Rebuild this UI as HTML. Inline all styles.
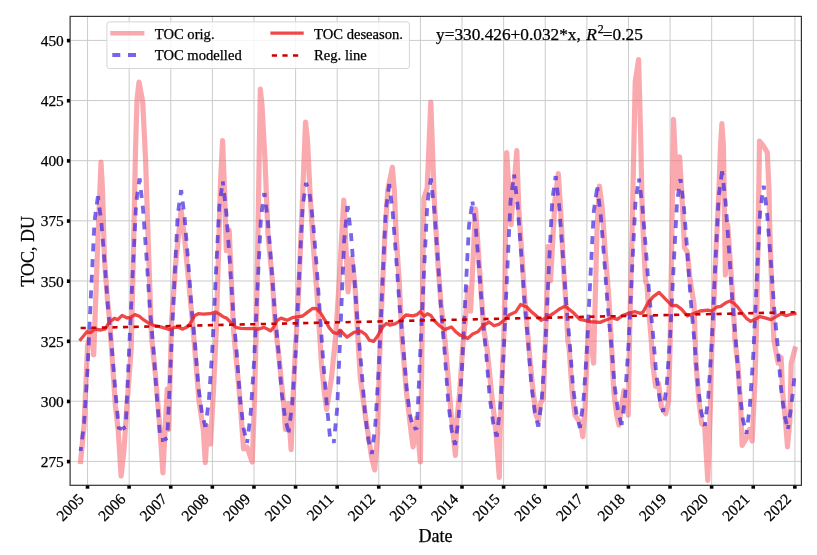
<!DOCTYPE html>
<html><head><meta charset="utf-8"><style>
html,body{margin:0;padding:0;background:#fff;width:817px;height:555px;overflow:hidden}
svg{display:block;filter:blur(0.35px)}
text{font-family:"Liberation Serif",serif;fill:#000;stroke:#000;stroke-width:0.25px}
</style></head><body>
<svg width="817" height="555" viewBox="0 0 817 555">
<rect x="0" y="0" width="817" height="555" fill="#fff"/>

<defs><clipPath id="ax"><rect x="70.1" y="16.4" width="731.3" height="468.9"/></clipPath></defs>
<path d="M87.55 16.4V485.3M129.16 16.4V485.3M170.77 16.4V485.3M212.38 16.4V485.3M253.99 16.4V485.3M295.6 16.4V485.3M337.2 16.4V485.3M378.81 16.4V485.3M420.42 16.4V485.3M462.03 16.4V485.3M503.64 16.4V485.3M545.25 16.4V485.3M586.86 16.4V485.3M628.47 16.4V485.3M670.08 16.4V485.3M711.68 16.4V485.3M753.29 16.4V485.3M794.9 16.4V485.3M70.1 461.4H801.4M70.1 401.25H801.4M70.1 341.11H801.4M70.1 280.97H801.4M70.1 220.83H801.4M70.1 160.69H801.4M70.1 100.54H801.4M70.1 40.4H801.4" stroke="#cbcbcb" stroke-width="1" fill="none"/>
<g clip-path="url(#ax)">
<polyline points="80.6,461.3 84.1,425 87.6,345 90.9,331 93.7,355 97.5,250 101,162 102.5,190 104.5,260 107.5,300 109.6,320 112.5,363 115.4,406 118.2,430 121.1,476 124,450 126.9,406 131.2,349 133.5,250 135.5,150 137,100 139,82 142.7,102 145.6,160 147.5,220 151.4,335 155.7,377.7 160,429.5 162.9,472.8 167.2,389.2 168.7,429.5 171.6,320 176,260 181.1,210.3 184.5,237.6 193.2,330 199,400.7 203.3,429.5 205.3,462.7 207.6,426.7 210.5,444 213.4,392 216.3,330 220.6,180 222.6,140.5 224.9,200 226.3,250.6 229.2,230.4 233.5,330 239.3,392 243.6,449 247,447 252.2,462 254.5,400 256.5,320 258.5,200 260.3,89 262,105 265,160 268,235 272.4,281 275.3,325 279.6,363.2 283.9,406.5 285.4,429.5 288.2,403.6 291.1,449.7 292.6,406.5 295.4,348.8 298.3,300 302.7,194 305.5,122 307.5,140 309.9,190 312.7,237.7 317.1,295.3 320,340 321.4,363.2 324.3,392 326.6,409.4 331.5,377.7 335.8,334.4 338.7,290 341.6,237.7 343.8,200 348,292 351.8,258 355,285 358,340 360.3,377.7 366.1,420.9 371.8,458.4 374.7,469.9 377.6,435.3 379,377.7 380.5,330 384.8,237.7 387.8,190 392.4,167.4 394.4,192 396.3,237.7 399.2,280.9 402.1,340 406.4,392 410.8,429.5 413.1,446.8 416.5,418 420.4,462 423.9,198 427.2,188 430.8,102 434.3,200 437.8,262 441,304 444.5,335 448.2,377.7 451,412.2 453.9,441 455.4,455.5 456.8,420.9 459.7,392 462.6,348.8 465.4,320 467.8,288.1 470.6,311.2 475.5,208.8 478.4,252 481.3,295.3 483.8,330 487.1,348.8 491.4,392 495.7,429.5 499.3,477.5 500,435.3 501.5,392 504.4,320 505.6,230 506.7,152.5 511,224.7 516.8,150.5 518.8,208.8 521.7,252 524.5,295.3 527.4,330 530.3,363.2 533.2,392 536.1,415.1 538.4,420.9 540.4,403.6 543.3,397.8 546.2,320 548.2,246.3 550.5,280.9 555,200 558.3,173.6 560.6,208.8 563.5,266.5 566.3,309.7 567.8,340 569.2,348.8 572.1,392 575,415.1 577.9,419.5 580.8,423.8 582.8,436.7 585.1,406.5 588.5,320 593.6,363.2 597,230 599.4,186 602.3,208.8 605.2,252 609,300 611.5,345 613.8,392 616.7,415.1 619,425.2 623.9,390.6 628.2,415.1 629.7,330 632,236 635.2,82 638.6,59.5 640.5,130 642.3,215 644.1,252 645.5,280.9 647,285 648.4,306.8 651.3,340 652.7,363.2 655.6,386.3 658.5,383.4 661.4,406.5 665.7,413.7 668.6,400.7 670,348.8 671.5,260 673.5,119.4 676.7,188.5 679.6,156.8 681.6,190 684.5,247.7 687.3,252 690.2,281 694,304 696,363.2 698.9,400.7 701.7,423.8 704.6,425.2 707.8,480.5 710.4,406.5 711.8,348.8 713.3,320 716,250 719,190 720.5,145.3 721.9,123.7 723.4,145.3 725.4,275 727.7,224.7 730.6,266.5 733.5,309.7 734.9,340 737.8,363.2 740.7,406.5 742.1,445.4 746.4,438.2 749.3,429.5 752.2,441 755.1,377.7 756.6,320 758.1,237.7 759.5,141 763.5,146 767.3,152.5 769,190 769.6,223.2 771,266.5 772.5,304 773.9,340 775.4,348.8 778.2,363.2 781.1,357.5 782.6,392 785.5,420.9 787.5,446.8 789.8,420.9 791.2,363.2 794.9,349" fill="none" stroke="#f7727a" stroke-opacity="0.6" stroke-width="5.2" stroke-linejoin="round" stroke-linecap="square"/>
<g fill="none" stroke="#3c26e1" opacity="0.7" stroke-width="3.8" stroke-dasharray="8 7.7" stroke-dashoffset="4" stroke-linejoin="round"><polyline points="80.62,451 84.09,422.94 87.55,369.37 91.02,292.84 94.49,221.41 97.96,195.9"/><polyline points="97.96,195.9 101.42,223.17 104.89,265.83 108.36,312.45 111.83,348.35 115.29,390.54 118.76,428 122.23,429"/><polyline points="122.23,429 125.7,427 129.16,348.84 132.63,273.69 136.1,203.55 139.57,178.5"/><polyline points="139.57,178.5 143.03,209.1 146.5,256.95 149.97,309.25 153.44,349.52 156.9,396.85 160.37,440 163.84,440"/><polyline points="163.84,440 167.31,438 170.77,360 174.24,285 177.71,215 181.17,190"/><polyline points="181.17,190 184.64,217.73 188.11,261.1 191.58,308.5 195.04,345 198.51,387.89 201.98,413.73 205.45,427"/><polyline points="205.45,427 208.91,399.98 212.38,348.41 215.85,274.73 219.32,205.96 222.78,181.4"/><polyline points="222.78,181.4 226.25,212.01 229.72,259.88 233.19,312.2 236.65,352.49 240.12,399.84 243.59,428.35 247.06,443"/><polyline points="247.06,443 250.52,415.5 253.99,363 257.46,288 260.92,218 264.39,193"/><polyline points="264.39,193 267.86,221.01 271.33,264.82 274.79,312.7 278.26,349.57 281.73,392.9 285.2,418.99 288.66,432.4"/><polyline points="288.66,432.4 292.13,404.94 295.6,352.53 299.07,277.65 302.53,207.76 306,182.8"/><polyline points="306,182.8 309.47,192.7 312.94,220.91 316.4,263.11 319.87,312.9 323.34,362.69 326.81,404.89 330.27,440 333.74,443"/><polyline points="333.74,443 337.21,408.29 340.68,324.5 344.14,240.71 347.61,206"/><polyline points="347.61,206 351.08,235.02 354.54,280.4 358.01,330 361.48,368.19 364.95,413.08 368.41,440.11 371.88,454"/><polyline points="371.88,454 375.35,424.3 378.82,367.6 382.28,286.6 385.75,211 389.22,184"/><polyline points="389.22,184 392.69,212.66 396.15,257.5 399.62,306.5 403.09,344.23 406.56,388.57 410.02,415.28 413.49,429"/><polyline points="413.49,429 416.96,428 420.43,348.84 423.89,273.69 427.36,203.55 430.83,178.5"/><polyline points="430.83,178.5 434.29,209.68 437.76,258.45 441.23,311.75 444.7,352.79 448.16,401.03 451.63,430.08 455.1,445"/><polyline points="455.1,445 458.57,418.23 462.03,367.11 465.5,294.09 468.97,225.94 472.44,201.6"/><polyline points="472.44,201.6 475.9,229.11 479.37,272.13 482.84,319.15 486.31,355.36 489.77,397.91 493.24,423.53 496.71,436.7"/><polyline points="496.71,436.7 500.18,407.86 503.64,352.8 507.11,274.14 510.58,200.72 514.05,174.5"/><polyline points="514.05,174.5 517.51,204.01 520.98,250.16 524.45,300.6 527.91,339.44 531.38,385.09 534.85,412.58 538.32,426.7"/><polyline points="538.32,426.7 541.78,399.12 545.25,346.48 548.72,271.27 552.19,201.07 555.65,176"/><polyline points="555.65,176 559.12,205.5 562.59,251.63 566.06,302.05 569.52,340.87 572.99,386.5 576.46,413.98 579.93,428.1"/><polyline points="579.93,428.1 583.39,401.6 586.86,351.01 590.33,278.74 593.8,211.29 597.26,187.2"/><polyline points="597.26,187.2 600.73,215.02 604.2,258.54 607.66,306.1 611.13,342.72 614.6,385.76 618.07,411.68 621.53,425"/><polyline points="621.53,425 625,397.88 628.47,346.12 631.94,272.17 635.4,203.15 638.87,178.5"/><polyline points="638.87,178.5 642.34,205.82 645.81,248.55 649.27,295.25 652.74,331.21 656.21,373.47 659.68,398.92 663.14,412"/><polyline points="663.14,412 666.61,386.37 670.08,337.44 673.55,267.54 677.01,202.3 680.48,179"/><polyline points="680.48,179 683.95,207.9 687.41,253.1 690.88,302.5 694.35,340.54 697.82,385.25 701.28,412.17 704.75,426"/><polyline points="704.75,426 708.22,397.98 711.69,344.5 715.15,268.09 718.62,196.77 722.09,171.3"/><polyline points="722.09,171.3 725.56,202.04 729.02,250.11 732.49,302.65 735.96,343.11 739.43,390.65 742.89,419.29 746.36,434"/><polyline points="746.36,434 749.83,406.69 753.3,354.54 756.76,280.05 760.23,210.53 763.7,185.7"/><polyline points="763.7,185.7 767.17,214.17 770.63,258.69 774.1,307.35 777.57,344.82 781.03,388.86 784.5,415.38 787.97,429"/><polyline points="787.97,429 791.44,405 794.9,373"/></g>
<polyline points="80.6,339.5 87,331.7 90.4,332.6 94.7,329.1 100.7,330 105,329.1 109.3,322.3 114.4,318.4 117.8,319.7 122.1,315.4 127.3,318 130.7,317.1 135,314.6 139.3,316.3 143.4,319.7 148.6,323.1 153.7,325.3 159.7,326.6 165.7,328.3 170,329.6 174.3,327.4 177.7,327 182.8,329.1 188,326.6 191.4,321.4 194.8,315.4 198.3,313.7 203.4,314.1 210.1,313.7 215.3,312 218.7,313.7 223,316.7 226.4,318 230.7,322.3 235.8,327.4 241,328.3 247.8,328.7 253,328.3 258.1,329.1 264.1,327.4 270.5,330.8 273.4,327.6 276.9,320.7 281.1,318.1 287.1,320.3 292.3,317.7 297.4,316.9 302.6,316 307.7,312.1 312.8,308.3 316.3,308.7 320.6,313 324.8,319.9 329.1,327.6 333.4,332.7 337.7,333.6 340.1,330.3 347,337.1 353.9,332.4 360.7,331.1 365.8,334.6 369.3,340.1 373.6,341.4 377.8,335.8 383,326.4 386.4,323.4 389.8,325.1 395,323.9 400.1,320.9 406,315 412.9,315.9 417.1,314.6 420.6,311.6 424,316.3 427.4,313.7 430.8,315.4 434.3,320.6 438.6,324.9 444.6,329.6 451.4,327 455.7,331.7 460,335.1 463.4,336 467.7,338.5 472.7,334 477.9,331.8 483,325.8 489,322 494.1,325.8 499.3,324.1 504.4,319.9 509.6,314.7 515.6,312.1 520.7,304.4 526.7,307 531.8,312.1 535.1,314.7 541.1,320.3 547.1,317.3 554,313 560,308.7 565.1,306.1 569.4,309.6 573.7,313 579.7,319.4 584.8,320.3 590,321.6 595.1,322 600.1,322.4 605.3,320.3 612.1,317.7 617.3,319.4 622.4,315.6 629.3,313 635.3,311.7 640.4,313.4 643,312.1 648.1,302.7 653.3,296.7 659.1,292.4 666,299.7 672,305.7 676.3,305.3 681.4,309.1 687.4,316 691.7,314.3 700.1,311 707.9,310.1 712.1,311 716.4,307.1 720.7,306.3 725,303.3 729.3,301.1 733.6,302.9 737.8,307.1 742.1,313.1 746.4,318.3 750.7,321.3 755.6,319.1 759.9,316.6 765,317.8 771,319.6 776.1,316.6 781.3,313.6 786.4,315.7 791.6,314 794.9,313.6" fill="none" stroke="#eb2828" stroke-opacity="0.85" stroke-width="3.3" stroke-linejoin="round" stroke-linecap="square"/>
<polyline points="80.62,328.06 794.9,312.2" fill="none" stroke="#c80000" stroke-width="2.6" stroke-dasharray="5.2 5.4"/>
</g>
<rect x="70.1" y="16.4" width="731.3" height="468.9" fill="none" stroke="#333" stroke-width="1.2"/>
<rect x="85.7" y="485.6" width="3.6" height="3.1" fill="#000"/><rect x="127.31" y="485.6" width="3.6" height="3.1" fill="#000"/><rect x="168.92" y="485.6" width="3.6" height="3.1" fill="#000"/><rect x="210.53" y="485.6" width="3.6" height="3.1" fill="#000"/><rect x="252.14" y="485.6" width="3.6" height="3.1" fill="#000"/><rect x="293.75" y="485.6" width="3.6" height="3.1" fill="#000"/><rect x="335.35" y="485.6" width="3.6" height="3.1" fill="#000"/><rect x="376.96" y="485.6" width="3.6" height="3.1" fill="#000"/><rect x="418.57" y="485.6" width="3.6" height="3.1" fill="#000"/><rect x="460.18" y="485.6" width="3.6" height="3.1" fill="#000"/><rect x="501.79" y="485.6" width="3.6" height="3.1" fill="#000"/><rect x="543.4" y="485.6" width="3.6" height="3.1" fill="#000"/><rect x="585.01" y="485.6" width="3.6" height="3.1" fill="#000"/><rect x="626.62" y="485.6" width="3.6" height="3.1" fill="#000"/><rect x="668.23" y="485.6" width="3.6" height="3.1" fill="#000"/><rect x="709.83" y="485.6" width="3.6" height="3.1" fill="#000"/><rect x="751.44" y="485.6" width="3.6" height="3.1" fill="#000"/><rect x="793.05" y="485.6" width="3.6" height="3.1" fill="#000"/><rect x="66.9" y="459.8" width="3.1" height="3.6" fill="#000"/><rect x="66.9" y="399.65" width="3.1" height="3.6" fill="#000"/><rect x="66.9" y="339.51" width="3.1" height="3.6" fill="#000"/><rect x="66.9" y="279.37" width="3.1" height="3.6" fill="#000"/><rect x="66.9" y="219.23" width="3.1" height="3.6" fill="#000"/><rect x="66.9" y="159.09" width="3.1" height="3.6" fill="#000"/><rect x="66.9" y="98.94" width="3.1" height="3.6" fill="#000"/><rect x="66.9" y="38.8" width="3.1" height="3.6" fill="#000"/>
<text x="63.8" y="467" font-size="15.4" text-anchor="end">275</text>
<text x="63.8" y="406.86" font-size="15.4" text-anchor="end">300</text>
<text x="63.8" y="346.71" font-size="15.4" text-anchor="end">325</text>
<text x="63.8" y="286.57" font-size="15.4" text-anchor="end">350</text>
<text x="63.8" y="226.43" font-size="15.4" text-anchor="end">375</text>
<text x="63.8" y="166.28" font-size="15.4" text-anchor="end">400</text>
<text x="63.8" y="106.14" font-size="15.4" text-anchor="end">425</text>
<text x="63.8" y="46" font-size="15.4" text-anchor="end">450</text>
<text transform="translate(84.75,500) rotate(-45)" font-size="15.5" text-anchor="end">2005</text>
<text transform="translate(126.36,500) rotate(-45)" font-size="15.5" text-anchor="end">2006</text>
<text transform="translate(167.97,500) rotate(-45)" font-size="15.5" text-anchor="end">2007</text>
<text transform="translate(209.58,500) rotate(-45)" font-size="15.5" text-anchor="end">2008</text>
<text transform="translate(251.19,500) rotate(-45)" font-size="15.5" text-anchor="end">2009</text>
<text transform="translate(292.8,500) rotate(-45)" font-size="15.5" text-anchor="end">2010</text>
<text transform="translate(334.4,500) rotate(-45)" font-size="15.5" text-anchor="end">2011</text>
<text transform="translate(376.01,500) rotate(-45)" font-size="15.5" text-anchor="end">2012</text>
<text transform="translate(417.62,500) rotate(-45)" font-size="15.5" text-anchor="end">2013</text>
<text transform="translate(459.23,500) rotate(-45)" font-size="15.5" text-anchor="end">2014</text>
<text transform="translate(500.84,500) rotate(-45)" font-size="15.5" text-anchor="end">2015</text>
<text transform="translate(542.45,500) rotate(-45)" font-size="15.5" text-anchor="end">2016</text>
<text transform="translate(584.06,500) rotate(-45)" font-size="15.5" text-anchor="end">2017</text>
<text transform="translate(625.67,500) rotate(-45)" font-size="15.5" text-anchor="end">2018</text>
<text transform="translate(667.28,500) rotate(-45)" font-size="15.5" text-anchor="end">2019</text>
<text transform="translate(708.88,500) rotate(-45)" font-size="15.5" text-anchor="end">2020</text>
<text transform="translate(750.49,500) rotate(-45)" font-size="15.5" text-anchor="end">2021</text>
<text transform="translate(792.1,500) rotate(-45)" font-size="15.5" text-anchor="end">2022</text>
<text x="435.5" y="541.6" font-size="18" text-anchor="middle">Date</text>
<text transform="translate(34,251.3) rotate(-90)" font-size="18" text-anchor="middle">TOC, DU</text>
<text x="436" y="40" font-size="17.3">y=330.426+0.032*x, <tspan font-style="italic" dx="1.2">R</tspan><tspan font-size="12" dx="0.8" dy="-6.8">2</tspan><tspan dx="-0.8" dy="6.8">=0.25</tspan></text>
<rect x="106.9" y="21.9" width="302.5" height="46.6" rx="2.5" fill="#fff" fill-opacity="0.8" stroke="#d6d6d6" stroke-width="1"/>
<path d="M110.3 33.3H144.4" stroke="#f7727a" stroke-opacity="0.6" stroke-width="4.4"/>
<path d="M112.3 55H137" stroke="#3c26e1" stroke-opacity="0.7" stroke-width="3.8" stroke-dasharray="8 7.7"/>
<path d="M270.4 33.1H303.7" stroke="#eb2828" stroke-opacity="0.85" stroke-width="3.3"/>
<path d="M271.8 55.5H299" stroke="#c80000" stroke-width="2.6" stroke-dasharray="5.2 5.4"/>
<text x="154.8" y="38.6" font-size="14.6">TOC orig.</text>
<text x="154.8" y="60.4" font-size="14.6">TOC modelled</text>
<text x="314.1" y="38.6" font-size="14.6">TOC deseason.</text>
<text x="314.1" y="60.4" font-size="14.6">Reg. line</text>
</svg>
</body></html>
